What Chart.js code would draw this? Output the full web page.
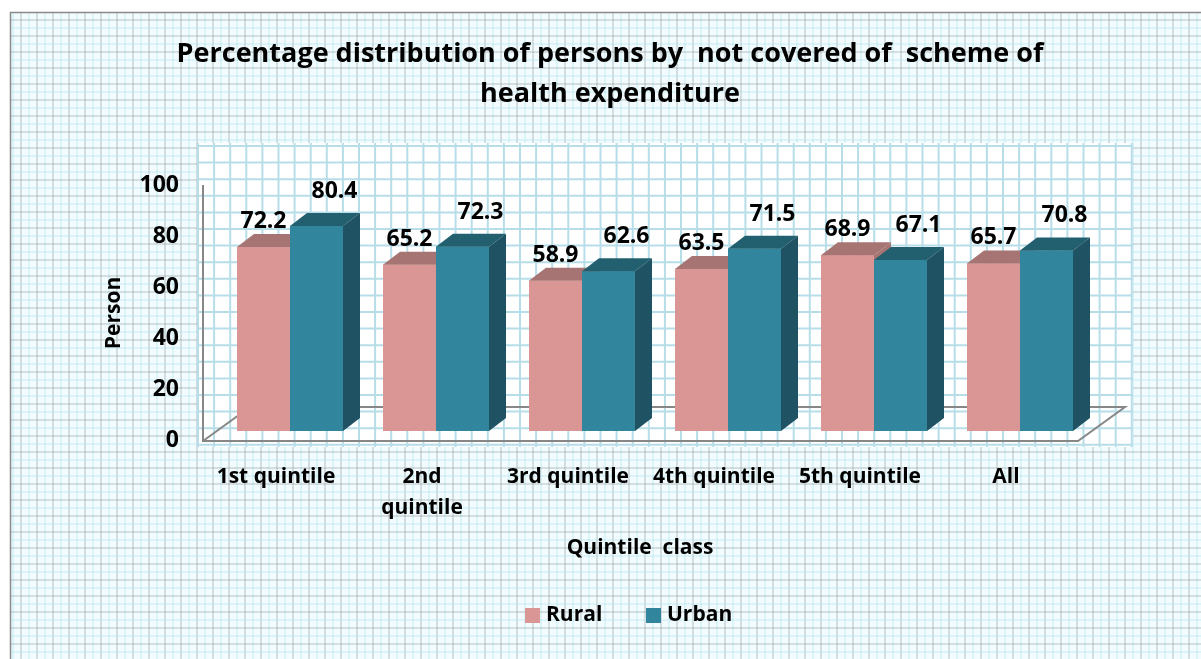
<!DOCTYPE html>
<html>
<head>
<meta charset="utf-8">
<script src="https://cdn.jsdelivr.net/npm/chart.js@4.4.0/dist/chart.umd.min.js"></script>
<style>
  html, body { margin: 0; padding: 0; background: #fff; }
  #wrap { width: 1201px; height: 659px; }
</style>
</head>
<body>
<div id="wrap"><canvas id="myChart" width="1201" height="659"></canvas></div>
<script>
const categories = ['1st quintile', ['2nd', 'quintile'], '3rd quintile', '4th quintile', '5th quintile', 'All']
const rural = [72.2, 65.2, 58.9, 63.5, 68.9, 65.7]
const urban = [80.4, 72.3, 62.6, 71.5, 67.1, 70.8]
const y_ticks = [0, 20, 40, 60, 80, 100]

const FONT = '"Open Sans", Lato, sans-serif'
const depth_x = 17
const depth_y = -13

// grid paper behind everything
const paper = {
  id: 'paper',
  beforeDraw(chart) {
    const ctx = chart.ctx
    ctx.save()
    ctx.fillStyle = '#f2fbfd'
    ctx.fillRect(0, 0, chart.width, chart.height)
    ctx.lineWidth = 2
    for (let x = 5; x < chart.width; x += 16) {
      ctx.strokeStyle = 'rgba(125,135,145,0.25)'
      ctx.beginPath(); ctx.moveTo(x, 0); ctx.lineTo(x, chart.height); ctx.stroke()
      ctx.strokeStyle = 'rgba(170,225,235,0.3)'
      ctx.beginPath(); ctx.moveTo(x + 8, 0); ctx.lineTo(x + 8, chart.height); ctx.stroke()
    }
    for (let y = 4; y < chart.height; y += 16) {
      ctx.strokeStyle = 'rgba(125,135,145,0.25)'
      ctx.beginPath(); ctx.moveTo(0, y); ctx.lineTo(chart.width, y); ctx.stroke()
      ctx.strokeStyle = 'rgba(170,225,235,0.3)'
      ctx.beginPath(); ctx.moveTo(0, y + 8); ctx.lineTo(chart.width, y + 8); ctx.stroke()
    }
    // outer border (top and left only, the rest runs off the picture)
    ctx.fillStyle = '#ffffff'
    ctx.fillRect(0, 0, chart.width, 12)
    ctx.fillRect(0, 0, 10, chart.height)
    ctx.strokeStyle = '#8a8a8a'
    ctx.lineWidth = 1.5
    ctx.beginPath()
    ctx.moveTo(10.5, chart.height); ctx.lineTo(10.5, 12.5); ctx.lineTo(chart.width, 12.5)
    ctx.stroke()

    // plot area paper
    const px = 198, py = 143, pw = 935, ph = 304
    ctx.fillStyle = '#ffffff'
    ctx.fillRect(px, py, pw, ph)
    ctx.strokeStyle = '#b7dde8'
    ctx.lineWidth = 2
    for (let x = px; x <= px + pw; x += 16.1) {
      ctx.beginPath(); ctx.moveTo(x, py); ctx.lineTo(x, py + ph); ctx.stroke()
    }
    for (let y = py + 3; y <= py + ph; y += 16.6) {
      ctx.beginPath(); ctx.moveTo(px, y); ctx.lineTo(px + pw, y); ctx.stroke()
    }
    ctx.restore()
  },
  beforeDatasetsDraw(chart) {
    // 3D floor and vertical axis
    const ctx = chart.ctx
    const ys = chart.scales.y
    const base = ys.getPixelForValue(0)
    const front = base + 10, back = base - 24
    const left = 203, right = 1078
    ctx.save()
    ctx.strokeStyle = '#878787'
    ctx.lineWidth = 2
    ctx.beginPath()
    ctx.moveTo(left, ys.getPixelForValue(100) + 9)
    ctx.lineTo(left, front)
    ctx.lineTo(right, front)
    ctx.lineTo(right + 47, back)
    ctx.lineTo(left + 47, back)
    ctx.lineTo(left, front)
    ctx.stroke()

    // y tick labels
    ctx.fillStyle = '#000'
    ctx.font = 'bold 23px ' + FONT
    ctx.textAlign = 'right'
    ctx.textBaseline = 'middle'
    y_ticks.forEach(v => ctx.fillText(String(v), 179, ys.getPixelForValue(v) + 9))

    // x tick labels
    const xs = chart.scales.x
    ctx.font = 'bold 21px ' + FONT
    ctx.textAlign = 'center'
    categories.forEach((c, i) => {
      const x = xs.getPixelForValue(i) - 14
      const lines = Array.isArray(c) ? c : [c]
      lines.forEach((t, k) => ctx.fillText(t, x, 477 + k * 31))
    })

    // axis titles
    ctx.font = 'bold 21px ' + FONT
    ctx.fillText('Quintile  class', 640, 548)
    ctx.save()
    ctx.translate(114, 313)
    ctx.rotate(-Math.PI / 2)
    ctx.fillText('Person', 0, 0)
    ctx.restore()

    // title
    ctx.font = 'bold 27px ' + FONT
    ctx.fillText('Percentage distribution of persons by  not covered of  scheme of', 610, 54)
    ctx.fillText('health expenditure', 610, 94)

    // legend
    const items = [['Rural', '#d99694', 525], ['Urban', '#31859c', 646]]
    ctx.font = 'bold 21px ' + FONT
    ctx.textAlign = 'left'
    items.forEach(([t, col, x]) => {
      ctx.fillStyle = col
      ctx.fillRect(x, 608, 15, 15)
      ctx.fillStyle = '#000'
      ctx.fillText(t, x + 21, 615)
    })
    ctx.restore()
  },
  afterDatasetsDraw(chart) {
    const ctx = chart.ctx
    ctx.save()
    // Chart.js paints the last dataset first; repaint per category so urban sits in front
    const metas = chart.data.datasets.map((ds, di) => chart.getDatasetMeta(di))
    for (let i = 0; i < chart.data.labels.length; i++) {
      metas.forEach((meta, di) => {
        const ds = chart.data.datasets[di]
        const bar = meta.data[i]
        bar.draw(ctx, chart.chartArea)
        const p = bar.getProps(['x', 'y', 'base', 'width'], true)
        const l = p.x - p.width / 2, r = p.x + p.width / 2
        // top face
        ctx.fillStyle = ds.topColor
        ctx.beginPath()
        ctx.moveTo(l, p.y); ctx.lineTo(r, p.y)
        ctx.lineTo(r + depth_x, p.y + depth_y); ctx.lineTo(l + depth_x, p.y + depth_y)
        ctx.closePath(); ctx.fill()
        // side face
        ctx.fillStyle = ds.sideColor
        ctx.beginPath()
        ctx.moveTo(r, p.y); ctx.lineTo(r + depth_x, p.y + depth_y)
        ctx.lineTo(r + depth_x, p.base + depth_y); ctx.lineTo(r, p.base)
        ctx.closePath(); ctx.fill()
      })
    }

    // value labels
    ctx.fillStyle = '#000'
    ctx.font = 'bold 23px ' + FONT
    ctx.textAlign = 'center'
    ctx.textBaseline = 'alphabetic'
    chart.data.datasets.forEach((ds, di) => {
      metas[di].data.forEach((bar, i) => {
        const p = bar.getProps(['x', 'y'], true)
        const dx = di === 0 ? 0 : 18
        const dy = di === 0 ? 19 : 28
        ctx.fillText(String(ds.data[i]), p.x + dx, p.y - dy)
      })
    })
    ctx.restore()
  }
}

const data = {
  labels: categories,
  datasets: [
    {
      label: 'Rural',
      data: rural,
      backgroundColor: '#d99694',
      topColor: '#a67472',
      sideColor: '#a67472',
    },
    {
      label: 'Urban',
      data: urban,
      backgroundColor: '#31859c',
      topColor: '#22606f',
      sideColor: '#1f5262',
    }
  ]
}

const config = {
  type: 'bar',
  data: data,
  options: {
    responsive: false,
    animation: false,
    datasets: {
      bar: { categoryPercentage: 106 / 146, barPercentage: 1, borderWidth: 0 }
    },
    layout: { padding: { left: 217, right: 108, top: 176, bottom: 228 } },
    plugins: {
      legend: { display: false },
      title: { display: false },
      tooltip: { enabled: false }
    },
    scales: {
      x: { display: false, grid: { display: false } },
      y: { display: false, min: 0, max: 100, grid: { display: false } }
    }
  },
  plugins: [paper]
}

const myChart = new Chart(document.getElementById('myChart'), config)
</script>
</body>
</html>
